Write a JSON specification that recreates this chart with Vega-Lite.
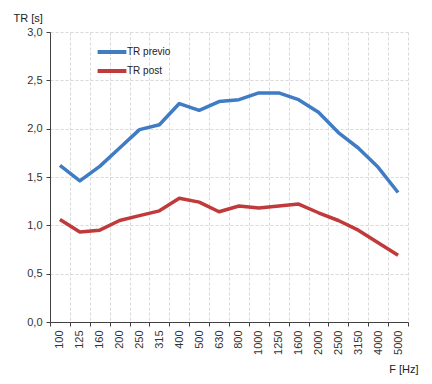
{
  "$schema": "https://vega.github.io/schema/vega-lite/v6.json",
  "autosize": {"type": "none"},
  "width": 358,
  "height": 290,
  "padding": {"left": 50, "top": 32, "right": 24, "bottom": 62},
  "background": "white",
  "config": {
    "font": "Liberation Sans",
    "view": {"stroke": null},
    "axis": {
      "labelFont": "Liberation Sans",
      "labelFontSize": 11,
      "labelColor": "#333333",
      "titleFont": "Liberation Sans",
      "titleFontSize": 11,
      "titleFontWeight": "normal",
      "titleColor": "#222222",
      "domainColor": "#404040",
      "tickColor": "#404040",
      "tickSize": 4,
      "gridColor": "#d9d9d9",
      "gridDash": [3, 2],
      "gridWidth": 1
    }
  },
  "data": {
    "values": [
      {"f": "100", "s": "TR previo", "tr": 1.62},
      {"f": "125", "s": "TR previo", "tr": 1.46},
      {"f": "160", "s": "TR previo", "tr": 1.61},
      {"f": "200", "s": "TR previo", "tr": 1.80},
      {"f": "250", "s": "TR previo", "tr": 1.99},
      {"f": "315", "s": "TR previo", "tr": 2.04},
      {"f": "400", "s": "TR previo", "tr": 2.26},
      {"f": "500", "s": "TR previo", "tr": 2.19},
      {"f": "630", "s": "TR previo", "tr": 2.28},
      {"f": "800", "s": "TR previo", "tr": 2.30},
      {"f": "1000", "s": "TR previo", "tr": 2.37},
      {"f": "1250", "s": "TR previo", "tr": 2.37},
      {"f": "1600", "s": "TR previo", "tr": 2.30},
      {"f": "2000", "s": "TR previo", "tr": 2.17},
      {"f": "2500", "s": "TR previo", "tr": 1.96},
      {"f": "3150", "s": "TR previo", "tr": 1.80},
      {"f": "4000", "s": "TR previo", "tr": 1.60},
      {"f": "5000", "s": "TR previo", "tr": 1.34},
      {"f": "100", "s": "TR post", "tr": 1.06},
      {"f": "125", "s": "TR post", "tr": 0.93},
      {"f": "160", "s": "TR post", "tr": 0.95},
      {"f": "200", "s": "TR post", "tr": 1.05},
      {"f": "250", "s": "TR post", "tr": 1.10},
      {"f": "315", "s": "TR post", "tr": 1.15},
      {"f": "400", "s": "TR post", "tr": 1.28},
      {"f": "500", "s": "TR post", "tr": 1.24},
      {"f": "630", "s": "TR post", "tr": 1.14},
      {"f": "800", "s": "TR post", "tr": 1.20},
      {"f": "1000", "s": "TR post", "tr": 1.18},
      {"f": "1250", "s": "TR post", "tr": 1.20},
      {"f": "1600", "s": "TR post", "tr": 1.22},
      {"f": "2000", "s": "TR post", "tr": 1.13},
      {"f": "2500", "s": "TR post", "tr": 1.05},
      {"f": "3150", "s": "TR post", "tr": 0.95},
      {"f": "4000", "s": "TR post", "tr": 0.82},
      {"f": "5000", "s": "TR post", "tr": 0.69}
    ]
  },
  "mark": {"type": "line", "strokeWidth": 3.5, "strokeJoin": "round"},
  "encoding": {
    "x": {
      "field": "f",
      "type": "ordinal",
      "sort": null,
      "scale": {"type": "band", "paddingInner": 0, "paddingOuter": 0},
      "axis": {
        "title": "F [Hz]",
        "titleAngle": 0,
        "titleX": 368,
        "titleY": 50,
        "titleAlign": "right",
        "titleBaseline": "alphabetic",
        "labelAngle": -90,
        "labelPadding": 4,
        "tickBand": "extent",
        "grid": true
      }
    },
    "y": {
      "field": "tr",
      "type": "quantitative",
      "scale": {"domain": [0, 3], "nice": false},
      "axis": {
        "title": "TR [s]",
        "titleAngle": 0,
        "titleX": -37,
        "titleY": -11,
        "titleAlign": "left",
        "titleBaseline": "alphabetic",
        "values": [0, 0.5, 1, 1.5, 2, 2.5, 3],
        "labelExpr": "replace(format(datum.value, '.1f'), '.', ',')",
        "labelPadding": 4,
        "grid": true
      }
    },
    "color": {
      "field": "s",
      "type": "nominal",
      "sort": ["TR previo", "TR post"],
      "scale": {"domain": ["TR previo", "TR post"], "range": ["#3f7cc4", "#c0393b"]},
      "legend": {
        "title": null,
        "orient": "none",
        "legendX": 51,
        "legendY": 9,
        "symbolType": "M-1.6,0L1.6,0",
        "symbolSize": 324,
        "symbolStrokeWidth": 4,
        "labelFont": "Liberation Sans",
        "labelFontSize": 10,
        "labelColor": "#222222",
        "labelOffset": 4,
        "rowPadding": 0
      }
    }
  }
}
